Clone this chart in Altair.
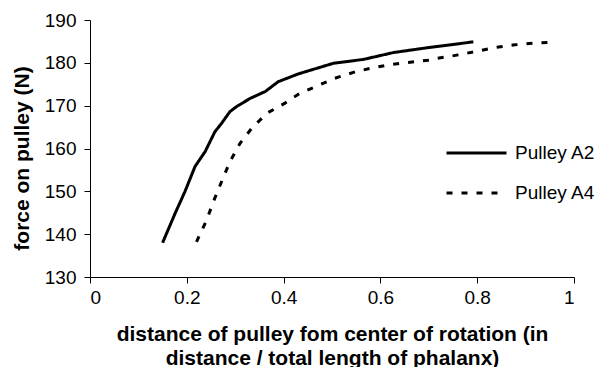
import altair as alt
import pandas as pd

a2_x = [0.150, 0.176, 0.196, 0.217, 0.238, 0.258, 0.272, 0.289, 0.303, 0.331, 0.362, 0.389,
        0.430, 0.503, 0.565, 0.627, 0.689, 0.792]
a2_y = [138.0, 144.9, 149.9, 155.8, 159.3, 163.9, 165.9, 168.6, 169.8, 171.7, 173.3, 175.6,
        177.4, 179.9, 180.8, 182.4, 183.4, 184.9]

a4_x = [0.220, 0.241, 0.255, 0.272, 0.289, 0.310, 0.334, 0.365, 0.403, 0.434, 0.465, 0.506,
        0.548, 0.579, 0.616, 0.658, 0.706, 0.716, 0.758, 0.795, 0.837, 0.878, 0.919, 0.957]
a4_y = [138.2, 143.3, 147.6, 152.3, 156.9, 161.2, 164.7, 168.2, 170.6, 172.9, 174.4, 176.4,
        177.9, 178.7, 179.5, 180.1, 180.7, 181.0, 181.8, 182.6, 183.6, 184.2, 184.6, 184.8]

series = ["Pulley A2", "Pulley A4"]
x_ticks = [0, 0.2, 0.4, 0.6, 0.8, 1]
y_ticks = [130, 140, 150, 160, 170, 180, 190]

rows = []
for i, (x, y) in enumerate(zip(a2_x, a2_y)):
    rows.append({"series": series[0], "x": x, "y": y, "o": i})
for i, (x, y) in enumerate(zip(a4_x, a4_y)):
    rows.append({"series": series[1], "x": x, "y": y, "o": i})
df = pd.DataFrame(rows)

FONT = "Liberation Sans"

chart = alt.Chart(df).mark_line(strokeWidth=3, color="black", strokeCap="butt").encode(
    x=alt.X("x:Q", scale=alt.Scale(domain=[0, 1], nice=False),
            axis=alt.Axis(values=x_ticks, format="~g",
                          title=["distance of pulley fom center of rotation (in",
                                 "distance / total length of phalanx)"],
                          titlePadding=16, labelPadding=5, tickSize=6)),
    y=alt.Y("y:Q", scale=alt.Scale(domain=[130, 190], nice=False, zero=False),
            axis=alt.Axis(values=y_ticks, title="force on pulley (N)",
                          titleX=-62, titleY=138, titleAngle=-90,
                          titleAlign="center", titleBaseline="alphabetic",
                          labelPadding=8, tickSize=6)),
    strokeDash=alt.StrokeDash("series:N",
                              scale=alt.Scale(domain=series, range=[[1, 0], [6, 9]]),
                              legend=alt.Legend(title=None, orient="none",
                                                legendX=355, legendY=123,
                                                symbolType="stroke", symbolSize=3600,
                                                symbolStrokeWidth=3, symbolStrokeColor="black",
                                                clipHeight=20, rowPadding=20,
                                                labelOffset=7, labelFontSize=19,
                                                labelFont=FONT, labelColor="black",
                                                padding=0)),
    order="o:Q",
).properties(
    width=484, height=257,
    autosize=alt.AutoSizeParams(type="none"),
    padding={"left": 82, "top": 12, "right": 21, "bottom": 92},
).configure_view(stroke=None).configure_axis(
    grid=False, domainColor="black", tickColor="black", domainWidth=1, tickWidth=1,
    labelFont=FONT, labelFontSize=19, labelColor="black",
    titleFont=FONT, titleFontSize=21, titleFontWeight="bold", titleColor="black",
    titleLineHeight=24,
)

chart.save("out.html", embed_options={"renderer": "svg", "actions": False})
